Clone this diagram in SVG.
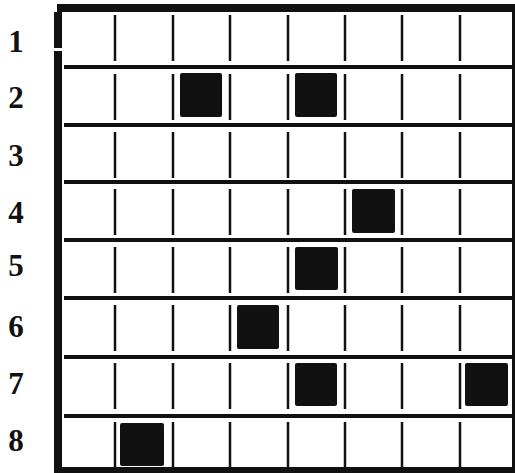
<svg xmlns="http://www.w3.org/2000/svg" width="515" height="473" viewBox="0 0 515 473">
<style>
.lbl{font-family:"Liberation Serif","Times New Roman",serif;font-weight:bold;font-size:31px;fill:#111;text-anchor:middle}
.h{stroke:#111;stroke-width:4}
.v{stroke:#111;stroke-width:2.5}
.sq{fill:#111}
</style>
<rect width="515" height="473" fill="#fff"/>
<g id="frame" fill="#111">
<rect x="57" y="4" width="458" height="8"/>
<rect x="54" y="12" width="8" height="36"/>
<rect x="54" y="51" width="8" height="418"/>
<rect x="512" y="12" width="3" height="458"/>
<rect x="54" y="467" width="461" height="6"/>
</g>
<g id="labels">
<text class="lbl" x="16" y="52">1</text>
<text class="lbl" x="16" y="108">2</text>
<text class="lbl" x="16" y="166">3</text>
<text class="lbl" x="16" y="223">4</text>
<text class="lbl" x="16" y="276">5</text>
<text class="lbl" x="16" y="337">6</text>
<text class="lbl" x="16" y="394">7</text>
<text class="lbl" x="16" y="451">8</text>
</g>
<g id="hlines">
<line class="h" x1="64" y1="67" x2="512" y2="67"/>
<line class="h" x1="64" y1="125" x2="512" y2="125"/>
<line class="h" x1="64" y1="182" x2="512" y2="182"/>
<line class="h" x1="64" y1="240" x2="512" y2="240"/>
<line class="h" x1="64" y1="298" x2="512" y2="298"/>
<line class="h" x1="64" y1="357" x2="512" y2="357"/>
<line class="h" x1="64" y1="416" x2="512" y2="416"/>
</g>
<defs>
<g id="vrow">
<line class="v" x1="115" y1="0" x2="115" y2="46"/>
<line class="v" x1="173" y1="0" x2="173" y2="46"/>
<line class="v" x1="230" y1="0" x2="230" y2="46"/>
<line class="v" x1="288" y1="0" x2="288" y2="46"/>
<line class="v" x1="345" y1="0" x2="345" y2="46"/>
<line class="v" x1="402" y1="0" x2="402" y2="46"/>
<line class="v" x1="460" y1="0" x2="460" y2="46"/>
</g>
</defs>
<g id="vlines">
<use href="#vrow" x="0" y="15"/>
<use href="#vrow" x="0" y="74"/>
<use href="#vrow" x="0" y="132"/>
<use href="#vrow" x="0" y="189"/>
<use href="#vrow" x="0" y="247"/>
<use href="#vrow" x="0" y="305"/>
<use href="#vrow" x="0" y="363"/>
<use href="#vrow" x="0" y="422"/>
</g>
<g id="squares">
<rect class="sq" x="180" y="73" width="42" height="44" rx="2"/>
<rect class="sq" x="295" y="73" width="42" height="44" rx="2"/>
<rect class="sq" x="352" y="189" width="43" height="44" rx="2"/>
<rect class="sq" x="295" y="247" width="43" height="43" rx="2"/>
<rect class="sq" x="237" y="305" width="42" height="44" rx="2"/>
<rect class="sq" x="295" y="363" width="42" height="43" rx="2"/>
<rect class="sq" x="465" y="363" width="43" height="43" rx="2"/>
<rect class="sq" x="120" y="423" width="44" height="43" rx="2"/>
</g>
</svg>
